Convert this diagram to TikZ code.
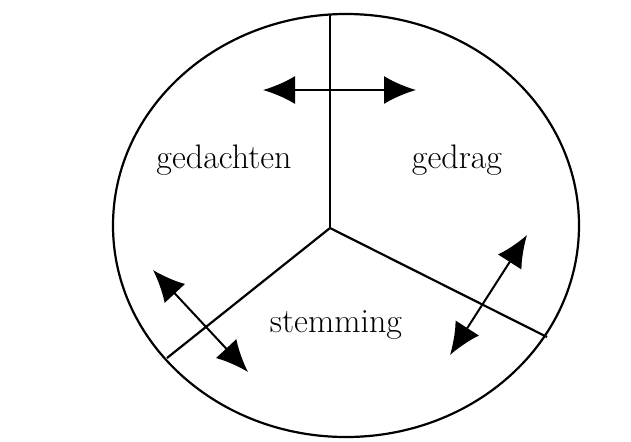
\documentclass[tikz,border=0pt]{standalone}
\usepackage{tikz}
\usetikzlibrary{arrows.meta,positioning}

\begin{document}
\begin{tikzpicture}[x=0.5pt,y=-0.5pt,
  spoke/.style={line width=1.1pt,draw=black},
  dbl/.style={{Latex[length=16pt,width=14pt]}-{Latex[length=16pt,width=14pt]},line width=1pt,draw=black},
  lbl/.style={font=\fontsize{17}{20}\selectfont,inner sep=0pt}
]
\useasboundingbox (0,0) rectangle (631,441);
% circle and the three sectors
\draw[spoke] (346,225.5) ellipse [x radius=116.5pt,y radius=105.75pt];
\coordinate (mid) at (330,228);
\coordinate (top) at (330,14);
\coordinate (lowleft) at (167,358);
\coordinate (lowright) at (547,337);
\draw[spoke] (mid)--(top);
\draw[spoke] (mid)--(lowleft);
\draw[spoke] (mid)--(lowright);
% labels
\node[lbl] (thoughts) at (224,160) {gedachten};
\node[lbl] (behaviour) at (457,160) {gedrag};
\node[lbl] (mood) at (336,325) {stemming};
% arrows across the borders
\coordinate (a1) at (263,90);
\coordinate (b1) at (416,90);
\coordinate (a2) at (153,270);
\coordinate (b2) at (248,372);
\coordinate (a3) at (450,355);
\coordinate (b3) at (527,235);
\draw[dbl] (a1)--(b1);
\draw[dbl] (a2)--(b2);
\draw[dbl] (a3)--(b3);
\end{tikzpicture}
\end{document}
